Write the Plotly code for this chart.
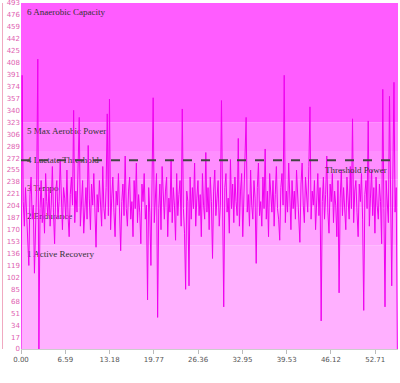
import plotly.graph_objects as go

# time in minutes (one sample every 10 s)
n_points = 337
time_min = [i / 6 for i in range(n_points)]

power = [
    0, 390, 210, 175, 230, 195, 160, 119, 220, 245, 185, 205, 108, 190, 235, 413,
    0, 200, 240, 180, 215, 165, 250, 210, 190, 230, 175, 205, 260, 195, 150, 225,
    240, 185, 210, 270, 200, 170, 230, 215, 185, 255, 190, 160, 220, 245, 205, 340,
    180, 225, 195, 250, 330, 175, 210, 240, 165, 200, 230, 185, 290, 215, 170, 235,
    205, 250, 180, 145, 220, 195, 240, 210, 175, 260, 200, 185, 230, 335, 190, 356,
    170, 215, 245, 195, 160, 225, 205, 250, 180, 140, 210, 235, 190, 275, 200, 175,
    225, 245, 185, 210, 160, 240, 200, 265, 180, 220, 195, 150, 235, 210, 250, 185,
    205, 70, 230, 195, 119, 240, 358, 180, 215, 250, 45, 200, 235, 170, 260, 210,
    185, 225, 245, 160, 215, 195, 270, 180, 230, 205, 155, 250, 190, 220, 240, 175,
    342, 200, 165, 85, 225, 210, 90, 245, 185, 230, 200, 265, 175, 215, 240, 190,
    220, 160, 250, 205, 185, 280, 195, 230, 170, 245, 210, 129, 225, 255, 190, 215,
    240, 175, 205, 354, 185, 60, 230, 250, 195, 215, 165, 270, 200, 235, 180, 245,
    210, 190, 300, 175, 225, 250, 160, 215, 240, 330, 195, 220, 175, 255, 205, 185,
    240, 215, 122, 230, 265, 190, 210, 175, 245, 200, 285, 185, 225, 160, 250, 210,
    195, 240, 175, 220, 260, 200, 185, 155, 230, 250, 205, 390, 180, 225, 195, 265,
    210, 170, 240, 200, 225, 185, 255, 215, 190, 152, 235, 265, 205, 180, 245, 220,
    195, 260, 345, 185, 225, 205, 240, 170, 215, 250, 190, 230, 40, 210, 245, 185,
    220, 275, 195, 165, 235, 210, 250, 180, 225, 205, 160, 240, 80, 215, 255, 190,
    230, 205, 170, 245, 215, 185, 260, 200, 328, 180, 225, 240, 195, 160, 235, 210,
    250, 185, 55, 220, 240, 200, 325, 175, 215, 255, 190, 230, 165, 245, 205, 185,
    235, 210, 150, 370, 200, 60, 240, 215, 180, 360, 225, 90, 245, 380, 195, 230, 0,
]

threshold_power = 269
zone_names = ["1 Active Recovery", "2 Endurance", "3 Tempo",
              "4 Lactate Threshold", "5 Max Aerobic Power", "6 Anaerobic Capacity"]
zone_bounds = [0, 148, 202, 242, 282, 323, 493]
zone_colors = ["#ffb0ff", "#ffa4ff", "#ff9aff", "#ff8eff", "#ff80ff", "#ff5cff"]

x_tickvals = [0.00, 6.59, 13.18, 19.77, 26.36, 32.95, 39.53, 46.12, 52.71]
x_ticktext = ["0.00", "6.59", "13.18", "19.77", "26.36", "32.95", "39.53", "46.12", "52.71"]
y_tickvals = [0, 17, 34, 51, 68, 85, 102, 119, 136, 153, 170, 187, 204, 221, 238,
              255, 272, 289, 306, 323, 340, 357, 374, 391, 408, 425, 442, 459, 476, 493]
y_ticktext = [str(v) for v in y_tickvals]

fig = go.Figure()
fig.add_trace(go.Scatter(x=time_min, y=power, mode="lines",
                         line=dict(color="#f000f0", width=1),
                         hoverinfo="skip", showlegend=False))

shapes = []
for name, y0, y1, col in zip(zone_names, zone_bounds[:-1], zone_bounds[1:], zone_colors):
    shapes.append(dict(type="rect", xref="paper", yref="y", x0=0, x1=1, y0=y0, y1=y1,
                       fillcolor=col, line=dict(width=0), layer="below",
                       label=dict(text=name, textposition="top left",
                                  font=dict(family="Liberation Serif", size=9, color="#333333"),
                                  padding=3)))
shapes.append(dict(type="line", xref="paper", yref="y", x0=0, x1=1,
                   y0=threshold_power, y1=threshold_power,
                   line=dict(color="#444444", width=2, dash="dash"), layer="above"))
shapes.append(dict(type="line", xref="paper", yref="paper", x0=-0.049, x1=-0.049,
                   y0=0, y1=1, line=dict(color="#f0a8c0", width=1)))

fig.update_layout(
    width=400, height=383,
    margin=dict(l=21, r=2, t=3, b=34, autoexpand=False),
    paper_bgcolor="white", plot_bgcolor="white",
    shapes=shapes,
    annotations=[dict(xref="paper", yref="y", x=0.975, y=threshold_power,
                      xanchor="right", yanchor="top", yshift=-3, showarrow=False,
                      text="Threshold Power",
                      font=dict(family="Liberation Serif", size=9, color="#333333"))],
    xaxis=dict(range=[0, 56.1], tickvals=x_tickvals, ticktext=x_ticktext,
               showgrid=False, zeroline=False, showline=True, linecolor="#cccccc",
               ticks="outside", ticklen=4, tickcolor="#bbbbbb", automargin=False,
               tickfont=dict(family="DejaVu Sans", size=7, color="#555555")),
    yaxis=dict(range=[0, 493], tickvals=y_tickvals, ticktext=y_ticktext,
               showgrid=False, zeroline=False, showline=False, ticks="",
               automargin=False, ticklabeloverflow="allow",
               tickfont=dict(family="DejaVu Sans", size=7, color="#e060b0")),
)

fig.write_html("out.html", config={"displayModeBar": False},
               post_script="document.body.style.margin='0';document.body.style.overflow='hidden';")
